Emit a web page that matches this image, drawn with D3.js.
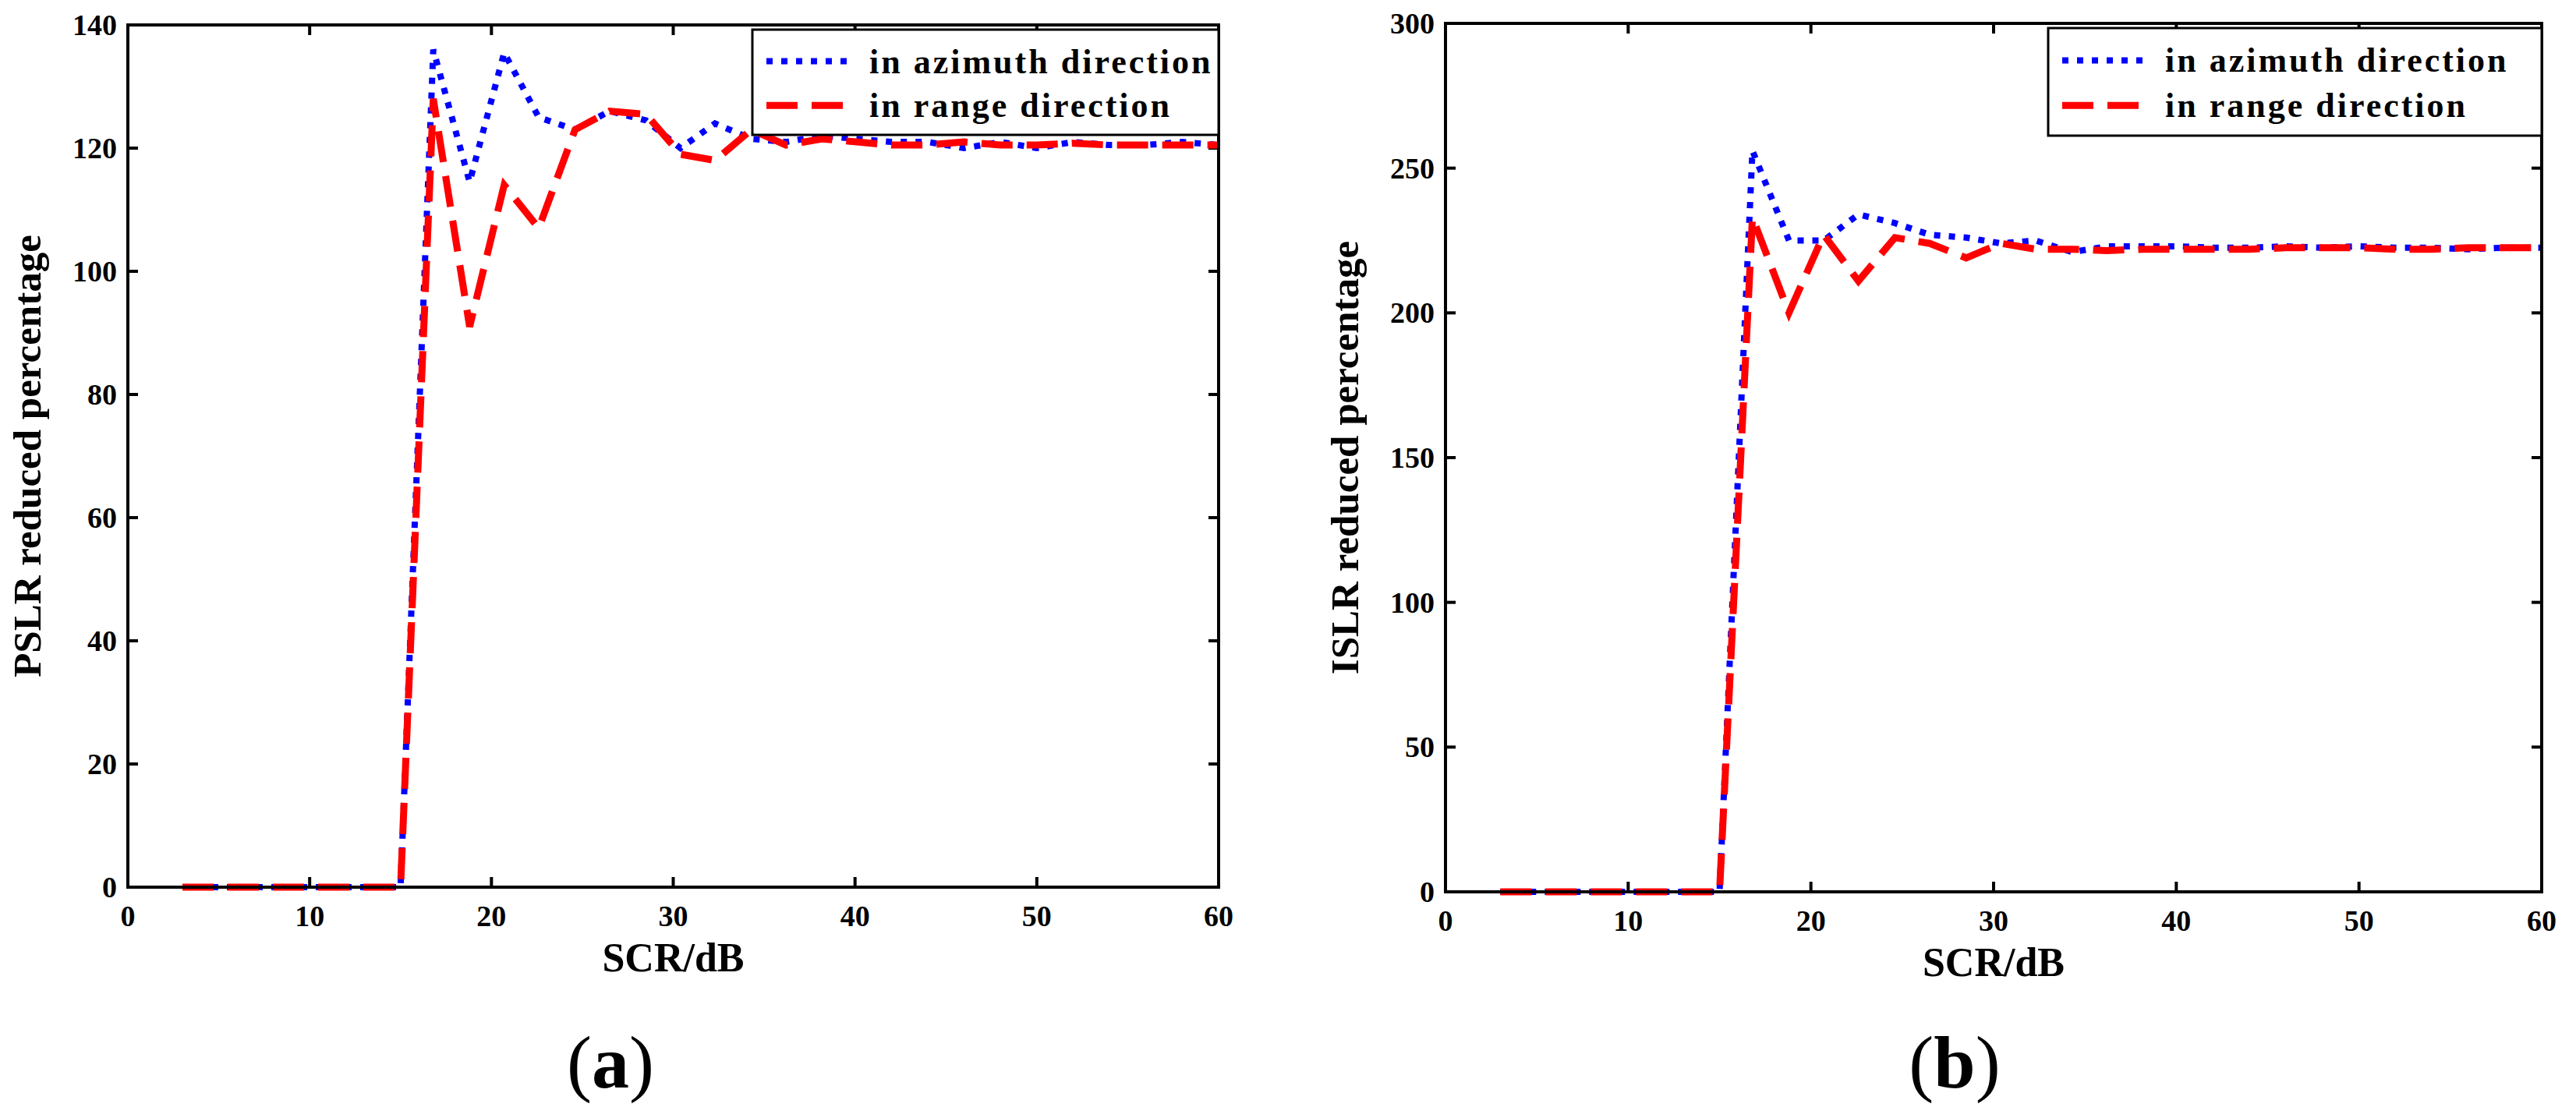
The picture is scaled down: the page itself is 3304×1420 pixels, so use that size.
<!DOCTYPE html>
<html><head><meta charset="utf-8">
<script src="https://cdn.jsdelivr.net/npm/d3@7"></script>
<style>body{margin:0;background:#fff}text{font-family:"Liberation Serif","Times New Roman",serif}</style>
</head><body><svg id="c" width="3304" height="1420"></svg>
<script>
const xs=[3,5,7,9,11,13,15,16.8,18.8,20.7,22.6,24.6,26.5,28.5,30.4,32.3,34.3,36.2,38.2,40.1,42,44,46,48,50,52,54,56,58,60];
const Z=[0,0,0,0,0,0,0];
const azA=Z.concat([136,114.5,135.5,125,123,126,124.5,120,124,121.5,121,122,121.5,121,121,120,121,120,121,120.5,120.5,121,120.5]);
const rgA=Z.concat([128,91,114,107,123,126,125.5,119,118,123,120.5,121.5,121,120.5,120.5,121,120.5,120.5,120.8,120.5,120.5,120.5,120.5]);
const azB=Z.concat([256,225,225,234,231,227,226,224,225,221,223,223,223,222.5,222.5,223,222.5,223,222.5,222.5,222,222.5,222.5]);
const rgB=Z.concat([233,200,227,211,226,224,219,224,222,222,221.5,222,222,222,222,222.5,222.5,222.5,222,222,222.5,222.5,222.5]);
const xTicks=[0,10,20,30,40,50,60];
const yTicksA=[0,20,40,60,80,100,120,140];
const yTicksB=[0,50,100,150,200,250,300];
const legendLabels=["in azimuth direction","in range direction"];

const svg=d3.select("#c");
function panel(o){
  const g=svg.append("g");
  const x=d3.scaleLinear().domain([0,60]).range([o.l,o.r]);
  const y=d3.scaleLinear().domain([0,o.ymax]).range([o.b,o.t]);
  const tl=13;
  xTicks.forEach(v=>{
    g.append("line").attr("x1",x(v)).attr("x2",x(v)).attr("y1",o.b).attr("y2",o.b-tl).attr("stroke","#000").attr("stroke-width",4);
    g.append("line").attr("x1",x(v)).attr("x2",x(v)).attr("y1",o.t).attr("y2",o.t+tl).attr("stroke","#000").attr("stroke-width",4);
    g.append("text").attr("x",x(v)).attr("y",o.b+50).attr("text-anchor","middle").attr("font-size",38).attr("font-weight","bold").text(v);
  });
  o.yt.forEach(v=>{
    g.append("line").attr("x1",o.l).attr("x2",o.l+tl).attr("y1",y(v)).attr("y2",y(v)).attr("stroke","#000").attr("stroke-width",4);
    g.append("line").attr("x1",o.r).attr("x2",o.r-tl).attr("y1",y(v)).attr("y2",y(v)).attr("stroke","#000").attr("stroke-width",4);
    g.append("text").attr("x",o.l-14).attr("y",y(v)+13).attr("text-anchor","end").attr("font-size",38).attr("font-weight","bold").text(v);
  });
  const line=d3.line().x((d,i)=>x(xs[i])).y(d=>y(d));
  g.append("path").attr("d",line(o.az)).attr("fill","none").attr("stroke","#0000ff").attr("stroke-width",8).attr("stroke-dasharray","8,11");
  g.append("path").attr("d",line(o.rg)).attr("fill","none").attr("stroke","#ff0000").attr("stroke-width",9).attr("stroke-dasharray","40,18");
  g.append("rect").attr("x",o.l).attr("y",o.t).attr("width",o.r-o.l).attr("height",o.b-o.t).attr("fill","none").attr("stroke","#000").attr("stroke-width",4);
  const L=o.leg;
  g.append("rect").attr("x",L.x).attr("y",L.y).attr("width",o.r-L.x).attr("height",L.h).attr("fill","#fff").attr("stroke","#000").attr("stroke-width",3);
  [["#0000ff","8,11",8],["#ff0000","40,18",9]].forEach((s,i)=>{
    const yy=L.y+L.h*(i==0?0.3:0.72);
    g.append("line").attr("x1",L.x+18).attr("x2",L.x+132).attr("y1",yy).attr("y2",yy).attr("stroke",s[0]).attr("stroke-width",s[2]).attr("stroke-dasharray",s[1]);
    g.append("text").attr("x",L.x+150).attr("y",yy+15).attr("font-size",44).attr("font-weight","bold").attr("letter-spacing",3).text(legendLabels[i]);
  });
  g.append("text").attr("x",(o.l+o.r)/2).attr("y",o.b+108).attr("text-anchor","middle").attr("font-size",52).attr("font-weight","bold").text("SCR/dB");
  g.append("text").attr("transform",`translate(${o.l-112},${(o.t+o.b)/2}) rotate(-90)`).attr("text-anchor","middle").attr("font-size",51).attr("font-weight","bold").text(o.ylab);
  const cap=g.append("text").attr("x",o.capx).attr("y",1395).attr("text-anchor","middle").attr("font-size",96);
  cap.append("tspan").text("(");cap.append("tspan").attr("font-weight","bold").text(o.cap);cap.append("tspan").text(")");
}
panel({l:164,r:1563,t:32,b:1138,ymax:140,yt:yTicksA,az:azA,rg:rgA,ylab:"PSLR reduced percentage",cap:"a",capx:783,leg:{x:965,y:38,h:135}});
panel({l:1854,r:3260,t:30,b:1144,ymax:300,yt:yTicksB,az:azB,rg:rgB,ylab:"ISLR reduced percentage",cap:"b",capx:2507,leg:{x:2627,y:36,h:138}});
</script></body></html>
